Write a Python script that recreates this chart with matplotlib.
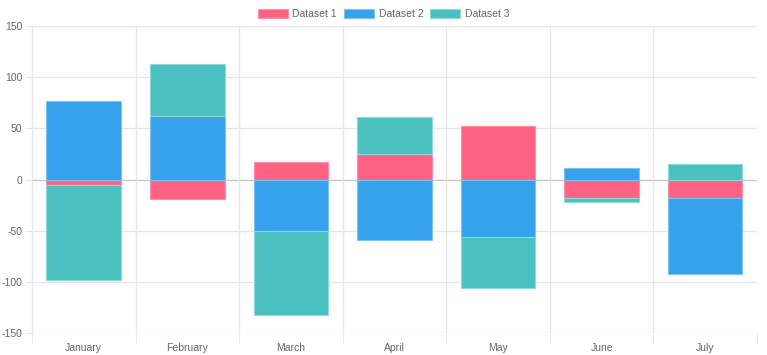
import matplotlib
matplotlib.use("Agg")
import matplotlib.pyplot as plt
from matplotlib.ticker import FixedLocator
import numpy as np

plt.rcParams['font.family'] = ['Liberation Sans', 'DejaVu Sans']
plt.rcParams['axes.unicode_minus'] = False

categories = ["January", "February", "March", "April", "May", "June", "July"]
series_names = ["Dataset 1", "Dataset 2", "Dataset 3"]
dataset1 = [-5, -19, 17, 25, 52, -18, -18]
dataset2 = [77, 62, -50, -59, -56, 11, -74]
dataset3 = [-93, 51, -82, 36, -50, -4, 15]
y_ticks = [-150, -100, -50, 0, 50, 100, 150]

colors = ["#ff6384", "#36a2eb", "#4bc0c0"]
edge_colors = ["#ff8fa6", "#7cc3f2", "#8fd9d9"]

fig = plt.figure(figsize=(7.67, 3.55), dpi=100)
ax = fig.add_axes([32/767, 1-333/355, (757-32)/767, (333-26)/355])

x = np.arange(len(categories))
pos_base = np.zeros(len(categories))
neg_base = np.zeros(len(categories))
for name, vals, c, ec in zip(series_names, [dataset1, dataset2, dataset3], colors, edge_colors):
    vals = np.array(vals, dtype=float)
    bottoms = np.where(vals >= 0, pos_base, neg_base)
    ax.bar(x, vals, width=0.72, bottom=bottoms, color=c, edgecolor=ec,
           linewidth=0.8, label=name, zorder=3)
    pos_base = pos_base + np.where(vals >= 0, vals, 0)
    neg_base = neg_base + np.where(vals < 0, vals, 0)

ax.set_xlim(-0.5, len(categories) - 0.5)
ax.set_ylim(-150, 150)
ax.set_yticks(y_ticks)
ax.set_xticks(x)
ax.set_xticklabels(categories)
ax.xaxis.set_minor_locator(FixedLocator(np.arange(-0.5, len(categories), 1.0)))

grid_c = "#e6e6e6"
ax.grid(False)
for yt in y_ticks:
    ax.axhline(yt, color="#c8c8c8" if yt == 0 else grid_c, linewidth=1, zorder=1)
for xb in np.arange(0.5, len(categories) - 0.5, 1.0):
    ax.axvline(xb, color=grid_c, linewidth=1, zorder=1)

for s in ["top", "right", "bottom"]:
    ax.spines[s].set_visible(False)
ax.spines["left"].set_color(grid_c)
ax.spines["left"].set_linewidth(1)

ax.tick_params(axis="y", which="major", length=5, color=grid_c, labelcolor="#666666",
               labelsize=7.5, pad=2)
ax.tick_params(axis="x", which="major", length=0, labelcolor="#666666", labelsize=7.5, pad=7)
ax.tick_params(axis="x", which="minor", length=7, color=grid_c)

leg = fig.legend(loc="center", bbox_to_anchor=(0.5, 1-14/355), ncol=3, frameon=False,
                 fontsize=7.5, handlelength=2.9, handleheight=0.95, handletextpad=0.43,
                 columnspacing=0.67, labelcolor="#666666", borderaxespad=0)

fig.savefig("out.png", dpi=100)
